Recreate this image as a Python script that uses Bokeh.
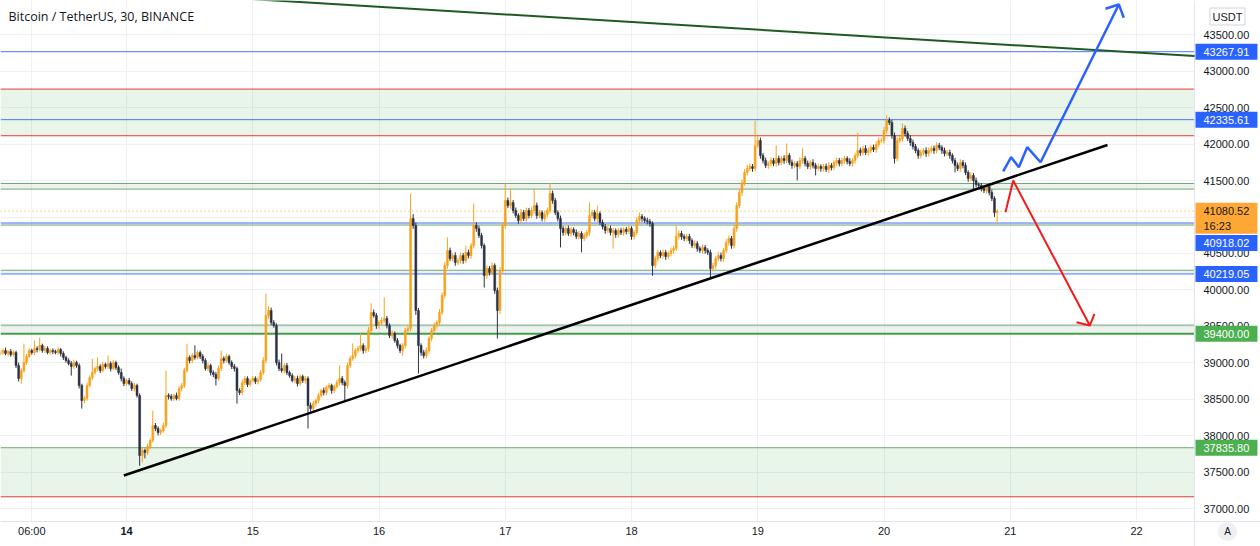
from bokeh.plotting import figure
from bokeh.models import Range1d, FixedTicker, Span, BoxAnnotation, Label, ColumnDataSource, Grid
from bokeh.core.properties import value
from bokeh.embed import file_html
from bokeh.resources import INLINE

# ---------------- data (BTC/USDT, 30-min candles from day 13 00:00) ----------------
first_open = 39128
closes = [
    39142, 39169, 39128, 39155, 39114, 39142, 38963, 38785, 38895, 39004, 39087, 39169, 39142, 39197, 39183, 39238, 39169, 39197, 39142, 39169,
    39155, 39142, 39183, 39128, 39073, 39032, 38991, 38950, 39004, 38963, 38689, 38483, 38511, 38689, 38799, 38867, 38922, 38950, 38895, 38977,
    38950, 38991, 38922, 39004, 38936, 38867, 38785, 38716, 38758, 38716, 38648, 38689, 38552, 37729, 37797, 37770, 37852, 37935, 38140, 38099,
    38044, 38072, 38140, 38552, 38538, 38511, 38552, 38511, 38648, 38689, 38895, 39073, 39032, 39100, 39073, 39142, 39087, 39032, 38922, 38963,
    38867, 38840, 38785, 38922, 39059, 39032, 39087, 39004, 38950, 38922, 38621, 38593, 38730, 38785, 38703, 38758, 38785, 38744, 38771, 38867,
    39032, 39650, 39718, 39553, 39512, 39004, 38922, 38895, 38963, 38867, 38826, 38758, 38785, 38716, 38813, 38758, 38785, 38415, 38374, 38442,
    38483, 38552, 38621, 38593, 38662, 38689, 38621, 38675, 38730, 38785, 38730, 38689, 38963, 39059, 39100, 39169, 39197, 39238, 39169, 39197,
    39444, 39691, 39650, 39512, 39553, 39581, 39608, 39512, 39375, 39402, 39306, 39238, 39169, 39238, 39444, 39471, 40980, 40884, 39718, 39238,
    39142, 39100, 39169, 39334, 39444, 39512, 39553, 39691, 39924, 40335, 40541, 40431, 40472, 40376, 40404, 40472, 40404, 40513, 40472, 40609,
    40884, 40843, 40747, 40609, 40198, 40294, 40239, 40335, 39992, 39718, 40266, 40884, 41227, 41158, 41199, 41090, 41021, 40952, 41062, 40980,
    41090, 41021, 41090, 41158, 41021, 41062, 40980, 41035, 41090, 41323, 41227, 41062, 40980, 40843, 40788, 40843, 40774, 40829, 40788, 40733,
    40774, 40705, 40747, 40788, 41021, 41062, 40980, 41048, 40925, 40870, 40815, 40843, 40788, 40815, 40760, 40815, 40788, 40829, 40801, 40843,
    40733, 40788, 40952, 41007, 40980, 40952, 40939, 40911, 40335, 40431, 40513, 40472, 40513, 40458, 40500, 40541, 40568, 40733, 40774, 40733,
    40705, 40733, 40678, 40609, 40637, 40568, 40541, 40582, 40541, 40513, 40294, 40335, 40431, 40472, 40431, 40541, 40650, 40705, 40609, 40843,
    41158, 41337, 41474, 41611, 41666, 41693, 41666, 41981, 42050, 41844, 41775, 41707, 41734, 41775, 41734, 41803, 41748, 41803, 41775, 41844,
    41748, 41707, 41734, 41693, 41775, 41803, 41734, 41693, 41748, 41707, 41666, 41693, 41666, 41693, 41652, 41707, 41679, 41748, 41775, 41734,
    41775, 41803, 41762, 41734, 41775, 41844, 41912, 41885, 41940, 41885, 41912, 41954, 41926, 41995, 42050, 42050, 42187, 42324, 42297, 42118,
    41803, 42050, 42077, 42214, 42146, 42077, 42022, 41967, 41912, 41844, 41885, 41912, 41871, 41912, 41940, 41912, 41981, 41954, 41912, 41871,
    41885, 41844, 41775, 41707, 41666, 41748, 41707, 41611, 41528, 41570, 41501, 41446, 41433, 41391, 41364, 41419, 41337, 41254, 41062, 41080.52,
]
wick_up = [
    30, 25, 40, 20, 35, 30, 25, 40, 30, 260, 35, 30, 25, 110, 30, 110, 25, 35, 30, 20,
    30, 25, 35, 20, 30, 25, 30, 35, 40, 25, 30, 25, 35, 40, 30, 190, 25, 125, 30, 35,
    25, 110, 30, 35, 25, 30, 55, 30, 25, 35, 30, 40, 25, 30, 35, 25, 40, 30, 205, 35,
    30, 25, 40, 340, 30, 35, 25, 40, 30, 35, 40, 190, 30, 35, 140, 30, 25, 35, 30, 40,
    25, 30, 35, 40, 110, 30, 35, 25, 30, 35, 25, 30, 40, 35, 30, 25, 35, 30, 40, 35,
    45, 300, 60, 40, 35, 30, 40, 205, 30, 35, 25, 30, 35, 40, 30, 25, 35, 30, 40, 35,
    30, 35, 25, 40, 30, 35, 25, 30, 40, 180, 35, 30, 40, 35, 165, 30, 35, 165, 30, 40,
    45, 125, 40, 35, 30, 45, 290, 35, 30, 40, 30, 35, 25, 30, 40, 35, 343, 60, 40, 35,
    30, 35, 40, 30, 35, 40, 30, 45, 40, 50, 180, 40, 35, 45, 30, 40, 35, 95, 40, 35,
    300, 45, 40, 35, 30, 40, 35, 45, 30, 40, 45, 50, 235, 40, 190, 35, 40, 30, 45, 35,
    40, 35, 45, 235, 40, 35, 30, 45, 40, 150, 40, 35, 30, 40, 35, 30, 40, 35, 30, 40,
    35, 30, 40, 35, 180, 40, 35, 110, 30, 40, 35, 30, 40, 35, 30, 35, 40, 30, 35, 40,
    30, 35, 40, 55, 35, 30, 40, 35, 30, 40, 35, 30, 40, 35, 30, 40, 35, 150, 40, 35,
    30, 40, 35, 30, 40, 35, 30, 40, 35, 30, 40, 35, 30, 45, 40, 35, 45, 40, 35, 50,
    45, 50, 40, 45, 50, 40, 35, 340, 60, 40, 35, 40, 30, 45, 35, 180, 40, 35, 45, 165,
    35, 40, 30, 35, 45, 140, 35, 40, 30, 45, 35, 40, 30, 35, 40, 45, 35, 30, 40, 35,
    40, 35, 30, 45, 35, 40, 245, 40, 35, 45, 40, 35, 40, 45, 40, 35, 45, 70, 40, 35,
    40, 45, 35, 70, 40, 35, 45, 40, 35, 30, 40, 35, 45, 40, 35, 40, 45, 35, 30, 40,
    35, 40, 30, 35, 40, 45, 35, 40, 30, 45, 35, 40, 30, 35, 40, 30, 35, 40, 30, 25,
]
wick_dn = [
    30, 35, 25, 40, 30, 25, 35, 40, 70, 30, 35, 25, 30, 35, 40, 25, 30, 35, 25, 30,
    35, 25, 30, 40, 35, 30, 25, 125, 35, 30, 40, 110, 35, 30, 25, 35, 30, 40, 35, 25,
    30, 35, 40, 25, 35, 30, 40, 35, 30, 25, 35, 40, 30, 140, 95, 80, 35, 40, 30, 35,
    40, 35, 30, 35, 40, 30, 35, 25, 30, 40, 35, 30, 40, 35, 30, 25, 35, 40, 30, 35,
    40, 35, 95, 30, 35, 40, 25, 30, 35, 40, 180, 35, 30, 40, 35, 30, 25, 35, 40, 30,
    35, 40, 45, 35, 30, 40, 35, 30, 40, 35, 30, 25, 35, 40, 30, 35, 40, 315, 45, 35,
    40, 35, 30, 40, 35, 30, 45, 35, 30, 40, 35, 205, 40, 35, 30, 40, 35, 30, 45, 35,
    40, 35, 30, 45, 40, 35, 30, 40, 35, 45, 30, 40, 35, 70, 40, 35, 40, 45, 60, 385,
    45, 40, 35, 45, 40, 35, 40, 45, 35, 40, 45, 35, 40, 45, 35, 40, 45, 35, 40, 45,
    40, 45, 35, 40, 165, 45, 40, 35, 45, 385, 50, 45, 40, 35, 45, 40, 35, 45, 40, 35,
    45, 40, 35, 40, 45, 35, 40, 45, 35, 40, 45, 35, 40, 260, 45, 40, 35, 45, 40, 35,
    40, 190, 35, 40, 45, 35, 40, 45, 35, 40, 45, 35, 40, 220, 45, 40, 35, 45, 40, 35,
    45, 40, 35, 40, 45, 35, 40, 45, 140, 40, 45, 35, 40, 45, 35, 40, 45, 35, 40, 45,
    35, 40, 45, 35, 40, 45, 35, 40, 45, 35, 140, 40, 45, 35, 40, 45, 35, 40, 45, 40,
    45, 40, 50, 45, 40, 35, 45, 40, 35, 45, 40, 35, 45, 40, 35, 45, 40, 35, 45, 40,
    35, 45, 40, 190, 35, 45, 40, 35, 45, 40, 95, 35, 45, 40, 35, 45, 40, 35, 45, 40,
    35, 45, 40, 35, 45, 40, 35, 45, 40, 35, 45, 40, 35, 45, 40, 35, 45, 40, 35, 45,
    70, 40, 35, 45, 40, 35, 45, 40, 35, 45, 40, 35, 45, 40, 35, 45, 40, 35, 45, 40,
    35, 45, 40, 95, 35, 45, 40, 35, 45, 40, 140, 35, 45, 40, 35, 45, 40, 35, 60, 150,
]

price_ticks = [37000, 37500, 38000, 38500, 39000, 39500, 40000, 40500, 41000, 41500, 42000, 42500, 43000, 43500]
time_ticks = [13.25, 14, 15, 16, 17, 18, 19, 20, 21, 22]
time_labels = ["06:00", "14", "15", "16", "17", "18", "19", "20", "21", "22"]
bold_time_labels = ["14"]

blue_levels = [43267.91, 42335.61, 40918.02, 40219.05]
red_levels = [42755, 42115, 37163]
green_levels = [41460, 41383, 40890, 40270, 39518, 37835.80]
strong_green_levels = [39400]
zone_bottoms = [42115, 37163]
zone_tops = [42755, 37835.80]
band_bottoms = [41383, 39400, 40890, 40219.05]
band_tops = [41460, 39518, 40918.02, 40270]
last_price = 41080.52
countdown = "16:23"
currency = "USDT"

# price tags on the scale
tag_prices = [43267.91, 42335.61, 40918.02, 40219.05, 39400.00, 37835.80]
tag_colors = ["#2962ff", "#2962ff", "#2962ff", "#2962ff", "#4caf50", "#4caf50"]
tag_shift_px = [0, 0, 20, 0, 0, 0]   # pushed down to avoid the last-price tag

support_x = [13.979, 21.770]
support_y = [37455, 41988]
resist_x = [14.927, 22.46]
resist_y = [43996, 43208]
up_path_x = [20.944, 21.007, 21.068, 21.134, 21.240, 21.860]
up_path_y = [41625, 41821, 41684, 41958, 41752, 43916]
up_head_x = [21.754, 21.860, 21.899]
up_head_y = [43857, 43916, 43733]
down_path_x = [20.962, 21.023, 21.630]
down_path_y = [41067, 41501, 39512]
down_head_x = [21.525, 21.630, 21.667]
down_head_y = [39558, 39512, 39673]

# visible window (days / USDT) and the edge of the price pane inside it
W, H = 1260, 546
X_START, X_END = 13.002, 22.982
Y_LOW, Y_HIGH = 36481, 43970
PANE_RIGHT = 22.459
PANE_BOTTOM = 36824
DX = (X_END - X_START) / W     # days per pixel
PY = (Y_HIGH - Y_LOW) / H      # USDT per pixel

n = len(closes)
if not (len(wick_up) == n and len(wick_dn) == n):
    raise SystemExit("length mismatch %d %d %d" % (n, len(wick_up), len(wick_dn)))

UP = "#f7a21b"
DOWN = "#2c3142"
FONT = "Liberation Sans"
TXT = "#131722"

times = [13 + i / 48 for i in range(n)]
opens = [first_open] + closes[:-1]
highs = [max(o, c) + w for o, c, w in zip(opens, closes, wick_up)]
lows = [min(o, c) - w for o, c, w in zip(opens, closes, wick_dn)]
colors = [UP if c >= o else DOWN for o, c in zip(opens, closes)]
src = ColumnDataSource(dict(t=times, o=opens, c=closes, h=highs, l=lows, color=colors,
                            top=[max(o, c) for o, c in zip(opens, closes)],
                            bot=[min(o, c) for o, c in zip(opens, closes)]))

p = figure(width=W, height=H, output_backend="svg", toolbar_location=None,
           x_range=Range1d(X_START, X_END), y_range=Range1d(Y_LOW, Y_HIGH),
           x_axis_location=None, y_axis_location=None,
           min_border_left=0, min_border_top=0, min_border_right=0, min_border_bottom=0)
p.outline_line_color = None
p.background_fill_color = "white"
p.border_fill_color = "white"
p.grid.visible = False

p.add_layout(Grid(dimension=0, ticker=FixedTicker(ticks=time_ticks), grid_line_color="#eef0f4"))
p.add_layout(Grid(dimension=1, ticker=FixedTicker(ticks=price_ticks), grid_line_color="#eef0f4"))

# zones and levels
for b, t in zip(zone_bottoms, zone_tops):
    p.add_layout(BoxAnnotation(bottom=b, top=t, fill_color="#4caf50", fill_alpha=0.13, line_color=None, level="underlay"))
for b, t in zip(band_bottoms, band_tops):
    p.add_layout(BoxAnnotation(bottom=b, top=t, fill_color="#9fb8a6", fill_alpha=0.18, line_color=None, level="underlay"))
for v in green_levels:
    p.add_layout(Span(location=v, dimension="width", line_color="#6fa877", line_width=1, level="underlay"))
for v in strong_green_levels:
    p.add_layout(Span(location=v, dimension="width", line_color="#43a047", line_width=2, level="underlay"))
for v in red_levels:
    p.add_layout(Span(location=v, dimension="width", line_color="#e53935", line_width=1, level="underlay"))
for v in blue_levels:
    p.add_layout(Span(location=v, dimension="width", line_color="#2962ff", line_width=1, line_alpha=0.85, level="underlay"))
p.add_layout(Span(location=last_price, dimension="width", line_color="#f7a21b", line_width=1, line_dash="1 3", level="underlay"))

# axis areas (white) with separators
p.add_layout(BoxAnnotation(left=PANE_RIGHT, fill_color="white", fill_alpha=1, line_color=None, level="underlay"))
p.add_layout(BoxAnnotation(top=PANE_BOTTOM, fill_color="white", fill_alpha=1, line_color=None, level="underlay"))
p.add_layout(Span(location=PANE_RIGHT, dimension="height", line_color="#e0e3eb", line_width=1, level="underlay"))
p.add_layout(Span(location=PANE_BOTTOM, dimension="width", line_color="#e0e3eb", line_width=1, level="underlay"))

# candles
p.segment(x0="t", x1="t", y0="l", y1="h", color="color", line_width=1, source=src)
p.vbar(x="t", width=0.75 / 48, top="top", bottom="bot", fill_color="color", line_color="color", line_width=0.5, source=src)

# drawings
p.line(resist_x, resist_y, line_color="#1f5a23", line_width=2)
p.line(support_x, support_y, line_color="black", line_width=2.5)
p.line(up_path_x, up_path_y, line_color="#2962ff", line_width=2.5)
p.line(up_head_x, up_head_y, line_color="#2962ff", line_width=2.5)
p.line(down_path_x, down_path_y, line_color="#f21b1b", line_width=2)
p.line(down_head_x, down_head_y, line_color="#f21b1b", line_width=2)

# price scale labels
p.text(x=[PANE_RIGHT] * len(price_ticks), y=price_ticks, text=["%.2f" % v for v in price_ticks],
       x_offset=9, text_font=value(FONT), text_font_size="11px", text_color=TXT,
       text_align="left", text_baseline="middle")
# time scale labels
normal = [(t, s) for t, s in zip(time_ticks, time_labels) if s not in bold_time_labels]
bold = [(t, s) for t, s in zip(time_ticks, time_labels) if s in bold_time_labels]
p.text(x=[t for t, s in normal], y=[PANE_BOTTOM] * len(normal), text=[s for t, s in normal],
       y_offset=10, text_font=value(FONT), text_font_size="11px", text_color=TXT,
       text_align="center", text_baseline="middle")
p.text(x=[t for t, s in bold], y=[PANE_BOTTOM] * len(bold), text=[s for t, s in bold],
       y_offset=10, text_font=value(FONT), text_font_size="11px", text_font_style="bold",
       text_color=TXT, text_align="center", text_baseline="middle")

# price tags
tag_x = PANE_RIGHT + 32 * DX
tag_y = [v - s * PY for v, s in zip(tag_prices, tag_shift_px)]
p.rect(x=[tag_x] * len(tag_y), y=tag_y, width=62, height=16, width_units="screen", height_units="screen",
       fill_color=tag_colors, line_color=None)
p.text(x=[PANE_RIGHT] * len(tag_y), y=tag_y, text=["%.2f" % v for v in tag_prices], x_offset=9,
       text_font=value(FONT), text_font_size="11px", text_color="white",
       text_align="left", text_baseline="middle")
# last price tag (two lines)
p.rect(x=[tag_x], y=[last_price - 7 * PY], width=62, height=31, width_units="screen", height_units="screen",
       fill_color="#ffa735", line_color=None)
p.text(x=[PANE_RIGHT, PANE_RIGHT], y=[last_price, last_price - 15 * PY], text=["%.2f" % last_price, countdown],
       x_offset=9, text_font=value(FONT), text_font_size="11px", text_color=TXT,
       text_align="left", text_baseline="middle")

# currency box and auto-scale button
p.rect(x=[PANE_RIGHT + 33 * DX], y=[Y_HIGH - 16 * PY], width=35, height=17, width_units="screen",
       height_units="screen", fill_color="white", line_color="#d1d4dc")
p.text(x=[PANE_RIGHT + 33 * DX], y=[Y_HIGH - 16 * PY], text=[currency], text_font=value(FONT),
       text_font_size="11px", text_color=TXT, text_align="center", text_baseline="middle")
p.scatter(x=[PANE_RIGHT + 33 * DX], y=[PANE_BOTTOM - 10 * PY], size=19, marker="circle",
          fill_color="#eef0f4", line_color=None)
p.text(x=[PANE_RIGHT + 33 * DX], y=[PANE_BOTTOM - 10 * PY], text=["A"], text_font=value(FONT),
       text_font_size="10px", text_color=TXT, text_align="center", text_baseline="middle")

# title
p.add_layout(Label(x=8, y=530, x_units="screen", y_units="screen", text="Bitcoin / TetherUS, 30, BINANCE",
                   text_font="Open Sans", text_font_size="12.5px", text_color=TXT, text_baseline="middle"))

open("out.html", "w").write(file_html(p, INLINE))
